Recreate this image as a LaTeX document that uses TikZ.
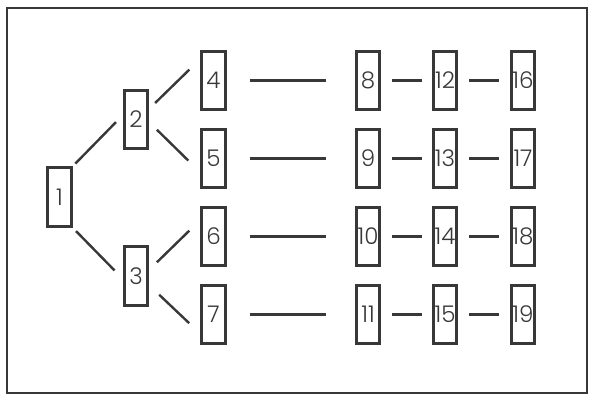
\documentclass[tikz,border=0pt]{standalone}
\usepackage{fontspec}
\setmainfont{Poppins Light}
\definecolor{ink}{HTML}{383838}
\begin{document}
\begin{tikzpicture}[x=1pt,y=-1pt,
  cell/.style={draw=ink,line width=2.6pt,minimum width=23.5pt,minimum height=58.5pt,inner sep=0pt,
    text=ink,font=\fontsize{23}{26}\selectfont},
  link/.style={draw=ink,line width=2.4pt},
  frame/.style={draw=ink,line width=2pt}]
\useasboundingbox (0,0) rectangle (598,400);
\draw[frame] (7,8) rectangle (587,393);
% tree part
\node[cell] (n1) at (59.5,197) {1};
\node[cell] (n2) at (136,119.5) {2};
\node[cell] (n3) at (136,276) {3};
\node[cell] (n4) at (213.5,80.5) {4};
\node[cell] (n5) at (213.5,158.5) {5};
\node[cell] (n6) at (213.5,236.5) {6};
\node[cell] (n7) at (213.5,314.5) {7};
% columns
\foreach \r/\y in {0/80.5,1/158.5,2/236.5,3/314.5}{
  \pgfmathtruncatemacro{\a}{8+\r}
  \pgfmathtruncatemacro{\b}{12+\r}
  \pgfmathtruncatemacro{\c}{16+\r}
  \node[cell] (n\a) at (368,\y) {\a};
  \node[cell] (n\b) at (445,\y) {\b};
  \node[cell] (n\c) at (523,\y) {\c};
}
% diagonal connectors
\draw[link,shorten <=4pt,shorten >=10pt] (n1.north east) -- (n2.161);
\draw[link,shorten <=5pt,shorten >=12pt] (n1.south east) -- (n3.193);
\draw[link,shorten <=8.5pt,shorten >=15.5pt] (n2.39) -- (n4.121);
\draw[link,shorten <=11pt,shorten >=17pt] (n2.349) -- (n5.227);
\draw[link,shorten <=11pt,shorten >=15.5pt] (n3.25) -- (n6.128);
\draw[link,shorten <=14pt,shorten >=15.5pt] (n3.325) -- (n7.236.6);
% horizontal connectors
\foreach \l/\m/\rr in {4/8/12,5/9/13,6/10/14,7/11/15}{
  \pgfmathtruncatemacro{\q}{\rr+4}
  \draw[link,shorten <=23pt,shorten >=29pt] (n\l.east) -- (n\m.west);
  \draw[link,shorten <=11pt,shorten >=10pt] (n\m.east) -- (n\rr.west);
  \draw[link,shorten <=11pt,shorten >=11pt] (n\rr.east) -- (n\q.west);
}
\end{tikzpicture}
\end{document}
